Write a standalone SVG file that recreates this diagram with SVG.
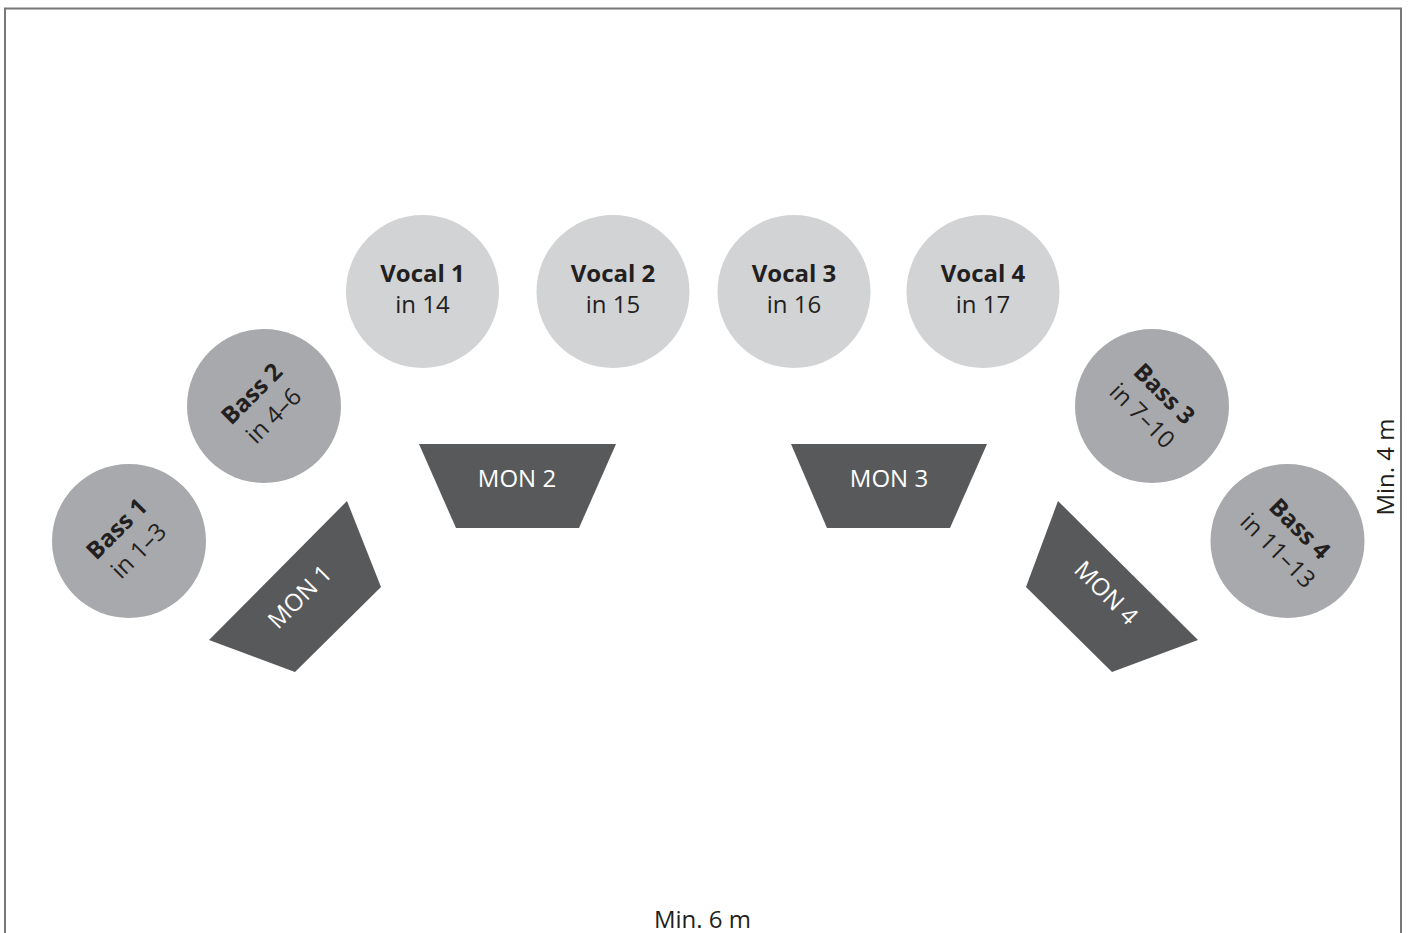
<svg xmlns="http://www.w3.org/2000/svg" width="1408" height="933" viewBox="0 0 1408 933">
<style>
.bass{fill:#a7a9ac}
.vocal{fill:#d1d3d4}
.mon{fill:#58595b}
text{font-family:"Open Sans","Liberation Sans",sans-serif;font-size:24px;fill:#231f20;text-anchor:middle}
.b{font-weight:bold}
.w{fill:#ffffff}
.frame{fill:none;stroke:#777777;stroke-width:2}
</style>
<rect width="1408" height="933" fill="#ffffff"/>
<path class="frame" d="M5,934 V8.5 H1401 V934"/>
<g id="bass1"><circle class="bass" cx="129" cy="541" r="77"/><g transform="translate(129,541) rotate(-45)"><text class="b" y="-9">Bass 1</text><text y="22">in 1–3</text></g></g>
<g id="bass2"><circle class="bass" cx="264" cy="406" r="77"/><g transform="translate(264,406) rotate(-45)"><text class="b" y="-9">Bass 2</text><text y="22">in 4–6</text></g></g>
<g id="vocal1"><circle class="vocal" cx="422.5" cy="291.5" r="76.5"/><text class="b" x="422.5" y="282">Vocal 1</text><text x="422.5" y="313">in 14</text></g>
<g id="vocal2"><circle class="vocal" cx="613" cy="291.5" r="76.5"/><text class="b" x="613" y="282">Vocal 2</text><text x="613" y="313">in 15</text></g>
<g id="vocal3"><circle class="vocal" cx="794" cy="291.5" r="76.5"/><text class="b" x="794" y="282">Vocal 3</text><text x="794" y="313">in 16</text></g>
<g id="vocal4"><circle class="vocal" cx="983" cy="291.5" r="76.5"/><text class="b" x="983" y="282">Vocal 4</text><text x="983" y="313">in 17</text></g>
<g id="bass3"><circle class="bass" cx="1152" cy="406" r="77"/><g transform="translate(1152,406) rotate(45)"><text class="b" y="-9">Bass 3</text><text y="22">in 7–10</text></g></g>
<g id="bass4"><circle class="bass" cx="1287.5" cy="541" r="77"/><g transform="translate(1287.5,541) rotate(45)"><text class="b" y="-9">Bass 4</text><text y="22">in 11–13</text></g></g>
<g id="mon1"><polygon class="mon" points="209,640 347,501 381,587 295,672"/><text class="w" transform="translate(300,597) rotate(-45)" y="8">MON 1</text></g>
<g id="mon2"><polygon class="mon" points="419,444 616,444 579,528 456,528"/><text class="w" x="517" y="487">MON 2</text></g>
<g id="mon3"><polygon class="mon" points="791,444 987,444 950,528 827,528"/><text class="w" x="889" y="487">MON 3</text></g>
<g id="mon4"><polygon class="mon" points="1058,501 1198,640 1112,672 1026,587"/><text class="w" transform="translate(1106,593) rotate(45)" y="8">MON 4</text></g>
<g id="connectors"></g>
<text x="702.5" y="928" font-size="22">Min. 6 m</text>
<text transform="translate(1394,467) rotate(-90)" font-size="22">Min. 4 m</text>
</svg>
